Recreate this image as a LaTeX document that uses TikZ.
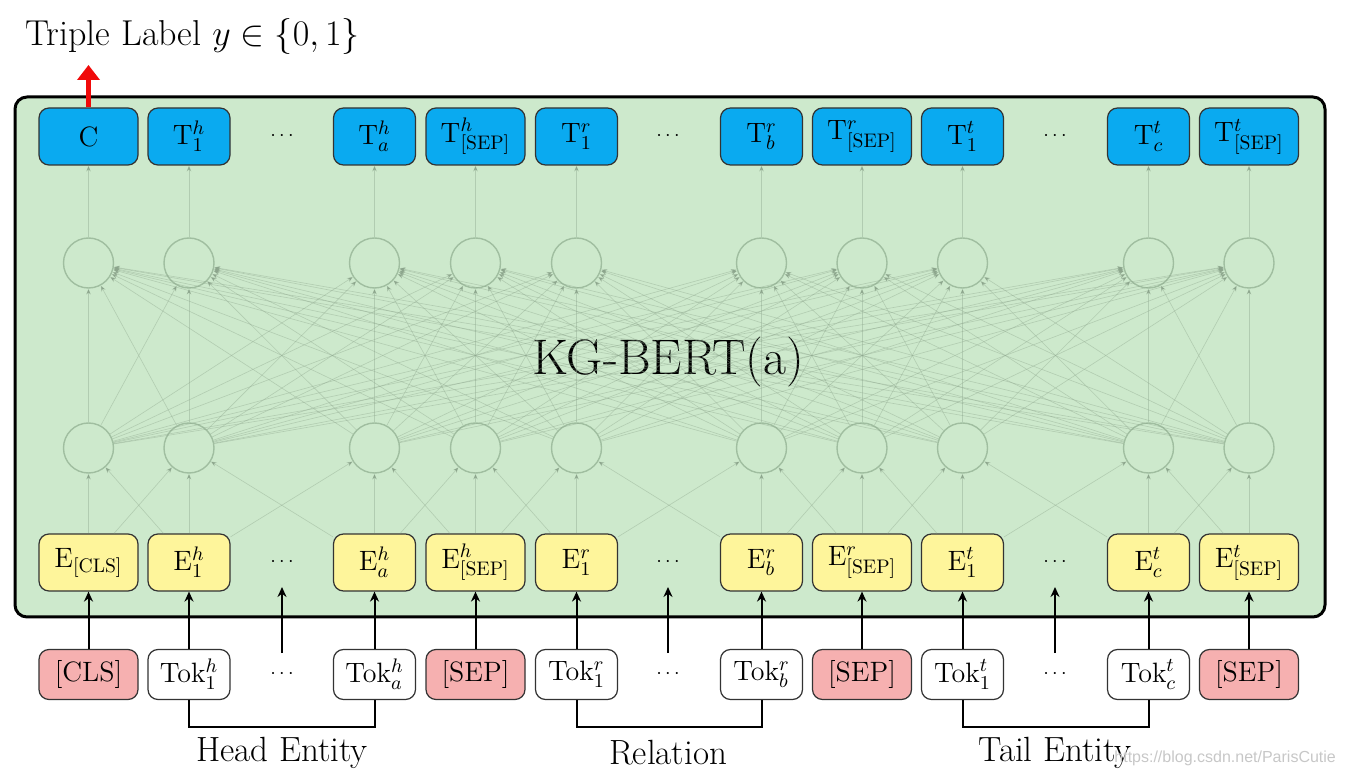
\RequirePackage{fix-cm}
\documentclass[tikz,border=0pt]{standalone}
\usepackage{fontspec}
\newfontfamily\wmfont{Liberation Sans}
\usetikzlibrary{arrows.meta}
\definecolor{frameg}{RGB}{205,233,204}
\definecolor{tblue}{RGB}{10,170,240}
\definecolor{eyel}{RGB}{254,245,155}
\definecolor{tpink}{RGB}{246,176,176}
\definecolor{circc}{RGB}{160,190,160}
\definecolor{lnk}{RGB}{140,165,140}
\definecolor{redar}{RGB}{240,10,10}
\tikzset{
  boxbase/.style={draw=black!80, line width=0.6pt, rounded corners=5pt, inner sep=0pt,
    font=\fontsize{14}{16}\selectfont},
  wide/.style={minimum width=49.5pt},
  narrow/.style={minimum width=41pt},
  tbox/.style={boxbase, fill=tblue, minimum height=28.5pt},
  ebox/.style={boxbase, fill=eyel, minimum height=28.5pt},
  tokbox/.style={boxbase, fill=white, minimum height=25pt},
  sepbox/.style={boxbase, fill=tpink, minimum height=25pt},
  neuron/.style={circle, draw=circc, line width=0.7pt, minimum size=25pt, inner sep=0pt},
  faint/.style={draw=lnk, line width=0.3pt, draw opacity=0.42, -{Stealth[length=3pt,width=2.4pt]}},
  blk/.style={draw=black, line width=1pt, -{Stealth[length=5pt,width=4.5pt]}},
  bracket/.style={draw=black, line width=1pt},
  dotsnode/.style={font=\fontsize{10}{12}\selectfont, inner sep=0pt},
  lbl/.style={font=\fontsize{17.5}{20}\selectfont, inner sep=0pt},
}
\begin{document}
\begin{tikzpicture}[x=0.5pt,y=-0.5pt]
\useasboundingbox (0,0) rectangle (1345,780);
% frame
\path[draw=black, line width=1.5pt, fill=frameg, rounded corners=6pt] (15,97) rectangle (1325,617);

% title
\node[anchor=base west, inner sep=0pt, font=\fontsize{18}{20}\selectfont] (title) at (25,46) {Triple Label $y \in \{0,1\}$};

% top row T
\node[tbox,wide]   (t1)  at (88.5,136.5)  {C};
\node[tbox,narrow] (t2)  at (189,136.5)   {$\mathrm{T}_1^h$};
\node[tbox,narrow] (t3)  at (374.5,136.5) {$\mathrm{T}_a^h$};
\node[tbox,wide]   (t4)  at (475.5,136.5) {$\mathrm{T}^h_{\mathrm{[SEP]}}$};
\node[tbox,narrow] (t5)  at (576.5,136.5) {$\mathrm{T}_1^r$};
\node[tbox,narrow] (t6)  at (761.5,136.5) {$\mathrm{T}_b^r$};
\node[tbox,wide]   (t7)  at (862,136.5)   {$\mathrm{T}^r_{\mathrm{[SEP]}}$};
\node[tbox,narrow] (t8)  at (962.5,136.5) {$\mathrm{T}_1^t$};
\node[tbox,narrow] (t9)  at (1148.5,136.5){$\mathrm{T}_c^t$};
\node[tbox,wide]   (t10) at (1249,136.5)  {$\mathrm{T}^t_{\mathrm{[SEP]}}$};
\node[dotsnode] (td1) at (282,136.5) {$\cdots$};
\node[dotsnode] (td2) at (668,136.5) {$\cdots$};
\node[dotsnode] (td3) at (1055,136.5) {$\cdots$};

% E row
\node[ebox,wide]   (e1)  at (88.5,562.5)  {$\mathrm{E}_{\mathrm{[CLS]}}$};
\node[ebox,narrow] (e2)  at (189,562.5)   {$\mathrm{E}_1^h$};
\node[ebox,narrow] (e3)  at (374.5,562.5) {$\mathrm{E}_a^h$};
\node[ebox,wide]   (e4)  at (475.5,562.5) {$\mathrm{E}^h_{\mathrm{[SEP]}}$};
\node[ebox,narrow] (e5)  at (576.5,562.5) {$\mathrm{E}_1^r$};
\node[ebox,narrow] (e6)  at (761.5,562.5) {$\mathrm{E}_b^r$};
\node[ebox,wide]   (e7)  at (862,562.5)   {$\mathrm{E}^r_{\mathrm{[SEP]}}$};
\node[ebox,narrow] (e8)  at (962.5,562.5) {$\mathrm{E}_1^t$};
\node[ebox,narrow] (e9)  at (1148.5,562.5){$\mathrm{E}_c^t$};
\node[ebox,wide]   (e10) at (1249,562.5)  {$\mathrm{E}^t_{\mathrm{[SEP]}}$};
\node[dotsnode] (ed1) at (282,562.5) {$\cdots$};
\node[dotsnode] (ed2) at (668,562.5) {$\cdots$};
\node[dotsnode] (ed3) at (1055,562.5) {$\cdots$};

% token row
\node[sepbox,wide]   (k1)  at (88.5,674.5)  {[CLS]};
\node[tokbox,narrow] (k2)  at (189,674.5)   {Tok$_1^h$};
\node[tokbox,narrow] (k3)  at (374.5,674.5) {Tok$_a^h$};
\node[sepbox,wide]   (k4)  at (475.5,674.5) {[SEP]};
\node[tokbox,narrow] (k5)  at (576.5,674.5) {Tok$_1^r$};
\node[tokbox,narrow] (k6)  at (761.5,674.5) {Tok$_b^r$};
\node[sepbox,wide]   (k7)  at (862,674.5)   {[SEP]};
\node[tokbox,narrow] (k8)  at (962.5,674.5) {Tok$_1^t$};
\node[tokbox,narrow] (k9)  at (1148.5,674.5){Tok$_c^t$};
\node[sepbox,wide]   (k10) at (1249,674.5)  {[SEP]};
\node[dotsnode] (kd1) at (282,674.5) {$\cdots$};
\node[dotsnode] (kd2) at (668,674.5) {$\cdots$};
\node[dotsnode] (kd3) at (1055,674.5) {$\cdots$};

% neurons
\foreach \x [count=\i] in {88.5,189,374.5,475.5,576.5,761.5,862,962.5,1148.5,1249} {
  \node[neuron] (u\i) at (\x,263) {};
  \node[neuron] (l\i) at (\x,448) {};
}

% KG-BERT label
\node[inner sep=0pt, font=\fontsize{25}{28}\selectfont] (kg) at (668,362) {KG-BERT(a)};

% full connections between neuron layers
\foreach \i in {1,...,10} {
  \foreach \j in {1,...,10} {
    \draw[faint] (l\i) -- (u\j);
  }
  \draw[faint] (u\i) -- (t\i);
  \draw[faint] (e\i) -- (l\i);
}
\foreach \i in {2,...,10} {
  \pgfmathtruncatemacro{\p}{\i-1}
  \draw[faint] (e\i) -- (l\p);
  \draw[faint] (e\p) -- (l\i);
}

% token -> embedding arrows
\foreach \i in {1,...,10} {
  \draw[blk] (k\i) -- (e\i);
}
\coordinate (da1) at (282,653); \coordinate (db1) at (282,587);
\coordinate (da2) at (668,653); \coordinate (db2) at (668,587);
\coordinate (da3) at (1055,653); \coordinate (db3) at (1055,587);
\draw[blk] (da1) -- (db1);
\draw[blk] (da2) -- (db2);
\draw[blk] (da3) -- (db3);

% red output arrow
\coordinate (ytip) at (88.5,65);
\draw[draw=redar, line width=2.6pt, -{Triangle[length=7.5pt,width=11pt]}] (t1.north) -- (ytip);

% brackets
\draw[bracket] (k2.south) -- ++(0,27) -| (k3.south);
\draw[bracket] (k5.south) -- ++(0,27) -| (k6.south);
\draw[bracket] (k8.south) -- ++(0,27) -| (k9.south);
\node[lbl] (head) at (282,753) {Head Entity};
\node[lbl] (rel)  at (668,753) {Relation};
\node[lbl] (tail) at (1055,753) {Tail Entity};

% watermark
\node[anchor=west, inner sep=0pt, text=black!22, font=\wmfont\fontsize{8}{9}\selectfont] (wm) at (1114,758) {https://blog.csdn.net/ParisCutie};
\end{tikzpicture}
\end{document}
